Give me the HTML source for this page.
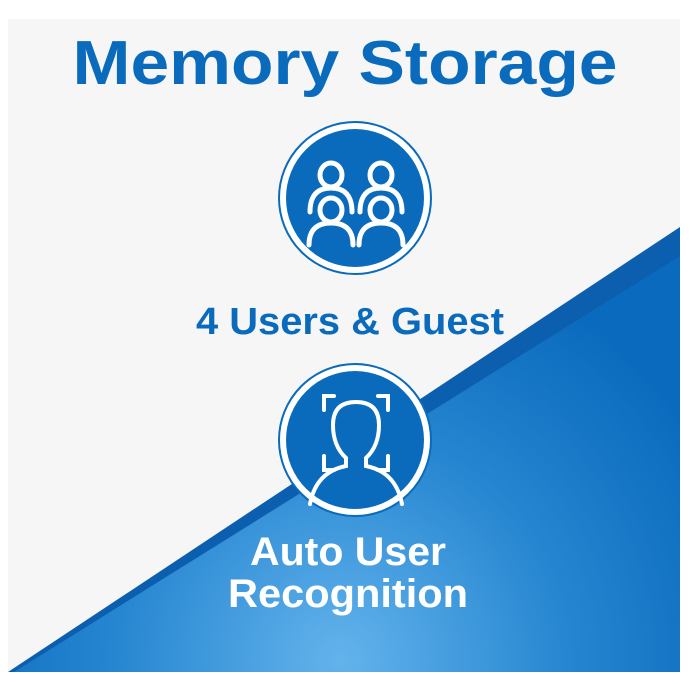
<!DOCTYPE html>
<html><head><meta charset="utf-8"><style>
body{margin:0;width:690px;height:700px;background:#fff;overflow:hidden;font-family:"Liberation Sans",sans-serif}
svg{position:absolute;left:0;top:0}
</style></head><body>
<svg width="690" height="700" viewBox="0 0 690 700">
<defs>
<radialGradient id="g" cx="340" cy="660" r="420" gradientUnits="userSpaceOnUse">
<stop offset="0" stop-color="#63b3ec"/><stop offset="0.55" stop-color="#2585d0"/><stop offset="1" stop-color="#0a6abd"/>
</radialGradient>
</defs>
<rect x="8" y="19" width="672" height="653" fill="#f6f6f6"/>
<polygon points="8,672 680,227 680,672" fill="#0b5fae"/>
<polygon points="14,672 680,256 680,672" fill="url(#g)"/>
<text x="345" y="84" text-anchor="middle" font-size="62" font-weight="bold" fill="#0a6bbd" textLength="545" lengthAdjust="spacingAndGlyphs">Memory Storage</text>
<g>
<circle cx="355" cy="198" r="76" fill="#fff" stroke="#0a6bbd" stroke-width="2"/>
<circle cx="355" cy="198" r="69" fill="#0a6bbd"/>
<g fill="none" stroke="#fff" stroke-width="5" stroke-linecap="round">
<ellipse cx="331" cy="175" rx="11" ry="12"/><path d="M310,212 q0,-24 21,-24 q21,0 21,24"/>
<ellipse cx="381" cy="175" rx="11" ry="12"/><path d="M360,212 q0,-24 21,-24 q21,0 21,24"/>
<ellipse cx="331" cy="210" rx="11" ry="12"/><path d="M309,245 q0,-22 22,-22 q22,0 22,22"/>
<ellipse cx="381" cy="210" rx="11" ry="12"/><path d="M359,245 q0,-22 22,-22 q22,0 22,22"/>
</g>
</g>
<text x="350" y="334" text-anchor="middle" font-size="38" font-weight="bold" fill="#0a6bbd" textLength="308" lengthAdjust="spacingAndGlyphs">4 Users &amp; Guest</text>
<g>
<circle cx="355" cy="440" r="76" fill="#fff" stroke="#0a6bbd" stroke-width="2"/>
<circle cx="355" cy="440" r="69" fill="#0a6bbd"/>
<g fill="none" stroke="#fff" stroke-width="4" stroke-linecap="round">
<path d="M324,410 v-14 h10 M378,396 h10 v14 M324,456 v14 h10 M378,470 h10 v-14"/>
<path d="M346,458 q-13,-12 -13,-33 q0,-23 23,-23 q23,0 23,23 q0,21 -13,33 v8 q30,6 36,38 M346,458 v8 q-30,6 -36,38"/>
</g>
</g>
<text x="348" y="565" text-anchor="middle" font-size="40" font-weight="bold" fill="#fff" textLength="196" lengthAdjust="spacingAndGlyphs">Auto User</text>
<text x="348" y="607" text-anchor="middle" font-size="40" font-weight="bold" fill="#fff" textLength="240" lengthAdjust="spacingAndGlyphs">Recognition</text>
</svg>
</body></html>
